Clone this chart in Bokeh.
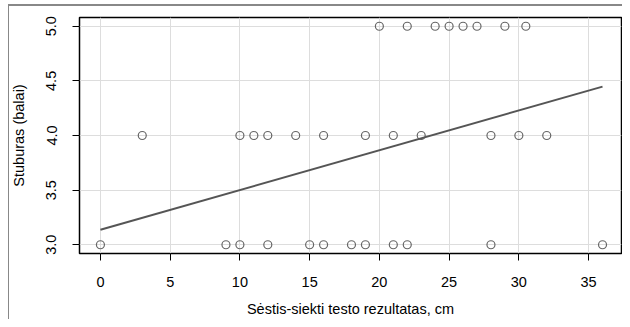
from bokeh.plotting import figure
from bokeh.models import FixedTicker, Range1d, NumeralTickFormatter
from bokeh.embed import file_html
from bokeh.resources import INLINE

# data
x_score5 = [20, 22, 24, 25, 26, 27, 29, 30.5]
x_score4 = [3, 10, 11, 12, 14, 16, 19, 21, 23, 28, 30, 32]
x_score3 = [0, 9, 10, 12, 15, 16, 18, 19, 21, 22, 28, 36]
intercept = 3.137
slope = 0.0364
line_x = [0, 36]
x_ticks = [0, 5, 10, 15, 20, 25, 30, 35]
y_ticks = [3.0, 3.5, 4.0, 4.5, 5.0]

xs = x_score5 + x_score4 + x_score3
ys = [5.0] * len(x_score5) + [4.0] * len(x_score4) + [3.0] * len(x_score3)
line_y = [intercept + slope * v for v in line_x]

FONT = "Liberation Sans"

frame_bg = ("linear-gradient(#888888, #888888) 8px 4px / 1px 100% no-repeat, "
            "linear-gradient(#888888, #888888) 8px 4px / 100% 2px no-repeat, #ffffff")

p = figure(width=622, height=319, output_backend="svg", toolbar_location=None,
           x_range=Range1d(-1.5, 37.36), y_range=Range1d(2.92, 5.08),
           min_border_left=79, min_border_right=1, min_border_top=17, min_border_bottom=66,
           styles={"background": frame_bg})

p.border_fill_color = None
p.background_fill_color = "white"
p.outline_line_color = "black"
p.outline_line_width = 1.5
p.outline_line_alpha = 1.0

for ax in (p.xaxis, p.yaxis):
    ax.axis_line_color = None
    ax.major_tick_in = 0
    ax.major_tick_out = 7
    ax.major_tick_line_color = "black"
    ax.minor_tick_line_color = None
    ax.major_label_text_font = FONT
    ax.major_label_text_font_size = "14.5px"
    ax.major_label_text_color = "black"
    ax.axis_label_text_font = FONT
    ax.axis_label_text_font_size = "14.5px"
    ax.axis_label_text_font_style = "normal"
    ax.axis_label_text_color = "black"

p.xaxis.ticker = FixedTicker(ticks=x_ticks)
p.yaxis.ticker = FixedTicker(ticks=y_ticks)
p.yaxis.formatter = NumeralTickFormatter(format="0.0")
p.yaxis.major_label_orientation = "vertical"
p.xaxis.major_label_standoff = 16
p.yaxis.major_label_standoff = 16
p.xaxis.axis_label = "Sėstis-siekti testo rezultatas, cm"
p.yaxis.axis_label = "Stuburas (balai)"
p.xaxis.axis_label_standoff = 11
p.yaxis.axis_label_standoff = 17

p.grid.grid_line_color = "#dddddd"
p.grid.grid_line_width = 1
p.xgrid.ticker = FixedTicker(ticks=x_ticks)
p.ygrid.ticker = FixedTicker(ticks=y_ticks)

p.scatter(xs, ys, marker="circle", size=8, fill_color=None,
          line_color="#666666", line_width=1.2)
p.line(line_x, line_y, line_color="#555555", line_width=2)

open("out.html", "w").write(file_html(p, INLINE))
